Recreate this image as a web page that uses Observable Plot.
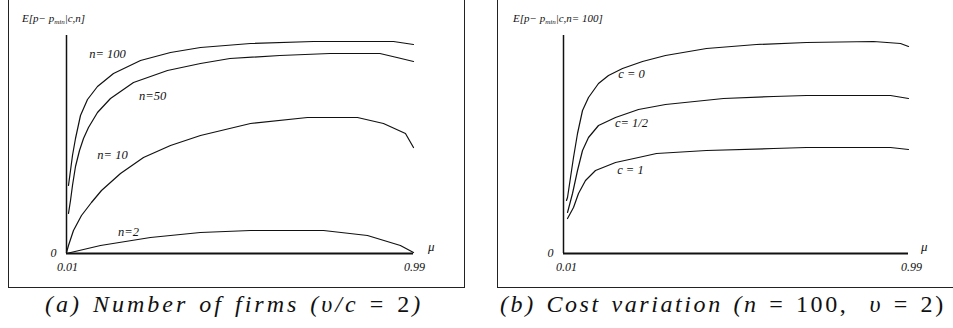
<!DOCTYPE html>
<html><head><meta charset="utf-8">
<script src="https://cdn.jsdelivr.net/npm/d3@7"></script>
<script src="https://cdn.jsdelivr.net/npm/@observablehq/plot@0.6"></script>
<style>
html,body{margin:0;padding:0;background:#fff}
body{width:953px;height:328px;overflow:hidden;position:relative;font-family:"Liberation Serif","DejaVu Serif",serif}
.box{position:absolute;box-sizing:border-box;border:1px solid #222}
#boxA{left:8px;top:-3px;width:457px;height:291px}
#boxB{left:497px;top:-3px;width:480px;height:291px}
.plot{position:absolute;top:0}
#plotA{left:0}
#plotB{left:476px}
.cap{position:absolute;top:291px;font-family:"Liberation Serif",serif;font-size:24px;white-space:nowrap;color:#111}
#capA{left:45px;letter-spacing:3px;word-spacing:2px}
#capB{left:500px;letter-spacing:2.6px;word-spacing:2px}
.cap i{font-style:italic}
.cap .u{font-style:normal}
</style>
</head><body>
<div class="box" id="boxA"></div>
<div class="box" id="boxB"></div>
<div class="plot" id="plotA"></div>
<div class="plot" id="plotB"></div>
<div class="cap" id="capA"><i>(a) Number of firms (υ/c</i> <span class="u">=</span> <span class="u">2</span><i>)</i></div>
<div class="cap" id="capB"><i>(b) Cost variation (n</i> <span class="u">=</span> <span class="u">100,</span> &nbsp;<i>υ</i> <span class="u">=</span> <span class="u">2)</span></div>
<script>
// ---------- Panel (a): number of firms (v/c = 2) ----------
const n100Mu  = [0.0156,0.0213,0.0269,0.0354,0.0495,0.0693,0.0975,0.1427,0.219,0.3037,0.3884,0.5296,0.7075,0.9334,0.99];
const n100Val = [68,83,98,115,138,154,167,180,193,201,206,210,212,212,209];
const n50Mu   = [0.0156,0.0213,0.0269,0.0354,0.0467,0.058,0.0721,0.0975,0.1342,0.1992,0.2952,0.3884,0.4716,0.6128,0.754,0.8952,0.9432,0.99];
const n50Val  = [40,53,68,87,103,115,126,141,155,171,183,190,195,198,200,200,196,192];
const n10Mu   = [0.01,0.0156,0.0297,0.0523,0.0805,0.1088,0.1625,0.2274,0.3037,0.3884,0.5296,0.6906,0.8318,0.9052,0.9673,0.99];
const n10Val  = [1,8,23,38,51,63,80,96,108,118,130,136,136,130,120,106];
const n2Mu    = [0.01,0.106,0.247,0.388,0.530,0.736,0.860,0.953,0.99];
const n2Val   = [0,8,16,21,23,23,18,8,1];
const labelsA    = ["n= 100","n=50","n= 10","n=2"];
const labelsAMu  = [0.126,0.253,0.14,0.185];
const labelsAVal = [200,158,99,22];

// ---------- Panel (b): cost variation (n = 100, v = 2) ----------
const c0Mu    = [0.0185,0.0214,0.0299,0.0384,0.0498,0.064,0.081,0.1094,0.1378,0.1776,0.2344,0.2997,0.4162,0.5582,0.7002,0.8906,0.9673,0.99];
const c0Val   = [53,56,76,96,120,143,156,170,178,185,192,198,205,209,211,212,210,207];
const cHalfMu = [0.0214,0.0356,0.0498,0.064,0.081,0.1094,0.1577,0.223,0.2997,0.4645,0.6065,0.7002,0.9389,0.99];
const cHalfVal= [41,60,83,103,116,128,136,144,149,155,157,158,158,155];
const c1Mu    = [0.0214,0.0384,0.0526,0.0725,0.1009,0.1577,0.223,0.2742,0.4162,0.6065,0.7002,0.9389,0.99];
const c1Val   = [35,46,60,73,83,91,96,100,103,105,106,106,104];
const labelsB    = ["c = 0","c= 1/2","c = 1"];
const labelsBMu  = [0.203,0.203,0.20];
const labelsBVal = [180,131,84];

// ---------- shared axis labels ----------
const xTicks = [0.01, 0.99];
const yTicks = [0];
const xName = "μ";

function panel(series, labels, opt) {
  const data = series.flatMap(s => s.mu.map((m, i) => ({name: s.name, mu: m, v: s.val[i]})));
  const lab = labels.text.map((t, i) => ({text: t, mu: labels.mu[i], v: labels.val[i]}));
  return Plot.plot({
    width: opt.width, height: 290,
    marginLeft: opt.marginLeft, marginRight: opt.marginRight, marginTop: 35, marginBottom: 37,
    x: {domain: [0.01, 0.99]},
    y: {domain: [0, 218]},
    style: {fontFamily: "'Liberation Serif', serif", fontStyle: "italic", fontSize: "12px", color: "#111", background: "transparent", overflow: "visible"},
    marks: [
      Plot.ruleX([0.01], {stroke: "#111", strokeWidth: 1.5}),
      Plot.ruleY([0], {stroke: "#111", strokeWidth: 1.8}),
      Plot.line(data, {x: "mu", y: "v", z: "name", stroke: "#111", strokeWidth: 1.2, curve: "linear"}),
      Plot.text(lab, {x: "mu", y: "v", text: "text", fontSize: 12.5, fontStyle: "italic", fill: "#111"}),
      Plot.axisX(xTicks, {label: null, tickSize: 0, tickPadding: 9, dx: opt.tickDx, tickFormat: d => d.toFixed(2), fontSize: 12, fontStyle: "italic", letterSpacing: "1px"}),
      Plot.axisY(yTicks, {label: null, tickSize: 0, tickPadding: 10, tickFormat: d => String(d), fontSize: 12, fontStyle: "italic"}),
      Plot.text([xName], {frameAnchor: "bottom-right", dx: opt.muDx, dy: -3, text: d => d, fontSize: 13, fontStyle: "italic"})
    ]
  });
}

function addYLabel(svg, x, y, tail) {
  const t = d3.select(svg).append("text")
    .attr("x", x).attr("y", y)
    .attr("text-anchor", "start")
    .attr("font-family", "'Liberation Serif', serif")
    .attr("font-style", "italic").attr("font-size", 11).attr("fill", "#111");
  t.append("tspan").text("E[p− p");
  t.append("tspan").attr("font-size", 7).attr("dy", 2).text("min");
  t.append("tspan").attr("dy", -2).text(tail);
}

const a = panel(
  [{name: "100", mu: n100Mu, val: n100Val}, {name: "50", mu: n50Mu, val: n50Val},
   {name: "10", mu: n10Mu, val: n10Val}, {name: "2", mu: n2Mu, val: n2Val}],
  {text: labelsA, mu: labelsAMu, val: labelsAVal},
  {width: 476, marginLeft: 66, marginRight: 63, tickDx: 1, muDx: 21}
);
addYLabel(a, 22, 22, "|c,n]");
document.getElementById("plotA").appendChild(a);

const b = panel(
  [{name: "0", mu: c0Mu, val: c0Val}, {name: "0.5", mu: cHalfMu, val: cHalfVal}, {name: "1", mu: c1Mu, val: c1Val}],
  {text: labelsB, mu: labelsBMu, val: labelsBVal},
  {width: 477, marginLeft: 87, marginRight: 45, tickDx: 3, muDx: 19}
);
addYLabel(b, 37, 22, "|c,n= 100]");
document.getElementById("plotB").appendChild(b);
</script>
</body></html>
